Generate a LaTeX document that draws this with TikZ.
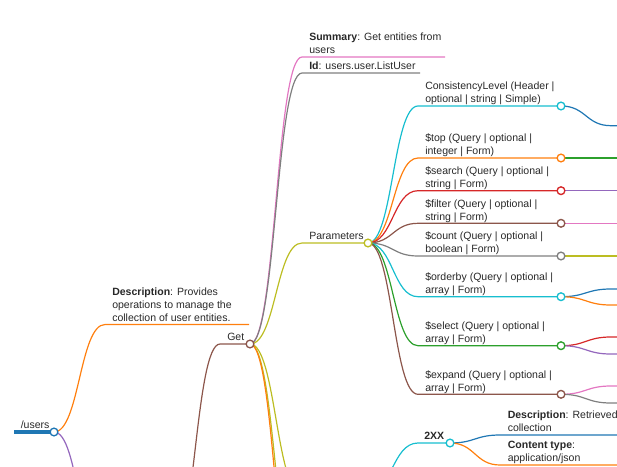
\documentclass[tikz,border=0pt]{standalone}
\usepackage{fontspec}
\setmainfont{Liberation Sans}

\definecolor{mblue}{RGB}{31,119,180}
\definecolor{morange}{RGB}{255,127,14}
\definecolor{mgreen}{RGB}{44,160,44}
\definecolor{mred}{RGB}{214,39,40}
\definecolor{mpurple}{RGB}{148,103,189}
\definecolor{mbrown}{RGB}{140,86,75}
\definecolor{mpink}{RGB}{227,119,194}
\definecolor{mgray}{RGB}{127,127,127}
\definecolor{molive}{RGB}{188,189,34}
\definecolor{mcyan}{RGB}{23,190,207}
\definecolor{ink}{RGB}{40,40,40}

\newcommand{\mmfont}{\fontsize{7.9}{9.8}\selectfont}

\begin{document}
\begin{tikzpicture}[x=0.75pt,y=0.75pt,yscale=-1,xscale=1,
  link/.style={line width=0.9pt},
  rootlink/.style={line width=2.4pt},
  dot/.style={circle,draw=#1,fill=white,line width=1pt,inner sep=0pt,minimum size=5.8pt},
  lbl/.style={anchor=south west,inner sep=0pt,align=left,font=\mmfont,text=ink,execute at end node=\strut}]
\clip (0,0) rectangle (617,467);

%Points [line starts and circles]
\coordinate (users-s) at (14,432);
\coordinate (users) at (54,432);
\coordinate (users-nx) at (105,565);
\coordinate (desc-s) at (105,324.5);
\coordinate (desc-e) at (249,324.5);
\coordinate (get-in) at (170,557);
\coordinate (get-s) at (220,344);
\coordinate (get) at (250,344);
\coordinate (summ-s) at (302,57);
\coordinate (summ-e) at (445,57);
\coordinate (id-s) at (302,73);
\coordinate (id-e) at (420,73);
\coordinate (par-s) at (302,243);
\coordinate (par) at (368,243);
\coordinate (resp-s) at (302,494);
\coordinate (resp) at (366,494);
\coordinate (get-nx1) at (302,598);
\coordinate (get-nx2) at (302,634);
\coordinate (cons-s) at (418,106);
\coordinate (cons) at (561,106);
\coordinate (top-s) at (418,158);
\coordinate (top) at (561,158);
\coordinate (search-s) at (418,190.7);
\coordinate (search) at (561,190.7);
\coordinate (filter-s) at (418,223.3);
\coordinate (filter) at (561,223.3);
\coordinate (count-s) at (418,256);
\coordinate (count) at (561,256);
\coordinate (order-s) at (418,296.7);
\coordinate (order) at (561,296.7);
\coordinate (select-s) at (418,345.7);
\coordinate (select) at (561,345.7);
\coordinate (expand-s) at (418,394.3);
\coordinate (expand) at (561,394.3);
\coordinate (two-s) at (418,443);
\coordinate (two) at (450,443);
\coordinate (two-d) at (500,435);
\coordinate (two-c) at (500,465);

%Root line
\draw [mblue,rootlink] (users-s) -- (users) ;
%Curve Lines [/users]
\draw [morange,link] (users) .. controls +(25.5,0) and +(-25.5,0) .. (desc-s) -- (desc-e) ;
\draw [mpurple,link] (users) .. controls +(25.5,0) and +(-25.5,0) .. (users-nx) ;
%Curve Lines [Get]
\draw [mbrown,link] (get-in) .. controls +(25,0) and +(-25,0) .. (get-s) -- (get) ;
\draw [mpink,link] (get) .. controls +(26,0) and +(-26,0) .. (summ-s) -- (summ-e) ;
\draw [mgray,link] (get) .. controls +(26,0) and +(-26,0) .. (id-s) -- (id-e) ;
\draw [molive,link] (get) .. controls +(26,0) and +(-26,0) .. (par-s) -- (par) ;
\draw [molive,link] (get) .. controls +(26,0) and +(-26,0) .. (resp-s) -- (resp) ;
\draw [molive,link] (get) .. controls +(26,0) and +(-26,0) .. (get-nx1) ;
\draw [morange,link] (get) .. controls +(26,0) and +(-26,0) .. (get-nx2) ;
%Curve Lines [Parameters]
\draw [mcyan,link] (par) .. controls +(25,0) and +(-25,0) .. (cons-s) -- (cons) ;
\draw [morange,link] (par) .. controls +(25,0) and +(-25,0) .. (top-s) -- (top) ;
\draw [mred,link] (par) .. controls +(25,0) and +(-25,0) .. (search-s) -- (search) ;
\draw [mbrown,link] (par) .. controls +(25,0) and +(-25,0) .. (filter-s) -- (filter) ;
\draw [mgray,link] (par) .. controls +(25,0) and +(-25,0) .. (count-s) -- (count) ;
\draw [mcyan,link] (par) .. controls +(25,0) and +(-25,0) .. (order-s) -- (order) ;
\draw [mgreen,link] (par) .. controls +(25,0) and +(-25,0) .. (select-s) -- (select) ;
\draw [mbrown,link] (par) .. controls +(25,0) and +(-25,0) .. (expand-s) -- (expand) ;
%Curve Lines [right edge]
\draw [mblue,link] (cons) .. controls +(25,0) and +(-25,0) .. (611,125.7) -- ++(30,0) ;
\draw [mgreen,link] (top) -- ++(80,0) ;
\draw [mpurple,link] (search) -- ++(80,0) ;
\draw [mpink,link] (filter) -- ++(80,0) ;
\draw [molive,link] (count) -- ++(80,0) ;
\draw [mblue,link] (order) .. controls +(25,0) and +(-25,0) .. (611,289) -- ++(30,0) ;
\draw [morange,link] (order) .. controls +(25,0) and +(-25,0) .. (611,305) -- ++(30,0) ;
\draw [mred,link] (select) .. controls +(25,0) and +(-25,0) .. (611,337) -- ++(30,0) ;
\draw [mpurple,link] (select) .. controls +(25,0) and +(-25,0) .. (611,354) -- ++(30,0) ;
\draw [mpink,link] (expand) .. controls +(25,0) and +(-25,0) .. (611,386) -- ++(30,0) ;
\draw [mgray,link] (expand) .. controls +(25,0) and +(-25,0) .. (611,403) -- ++(30,0) ;
%Curve Lines [2XX]
\draw [mcyan,link] (resp) .. controls +(26,0) and +(-26,0) .. (two-s) -- (two) ;
\draw [mblue,link] (two) .. controls +(25,0) and +(-25,0) .. (two-d) -- ++(130,0) ;
\draw [morange,link] (two) .. controls +(25,0) and +(-25,0) .. (two-c) -- ++(130,0) ;

%Shape: Circles
\node [dot=mblue] (users-dot) at (users) {};
\node [dot=mbrown] (get-dot) at (get) {};
\node [dot=molive] (par-dot) at (par) {};
\node [dot=mcyan] (cons-dot) at (cons) {};
\node [dot=morange] (top-dot) at (top) {};
\node [dot=mred] (search-dot) at (search) {};
\node [dot=mbrown] (filter-dot) at (filter) {};
\node [dot=mgray] (count-dot) at (count) {};
\node [dot=mcyan] (order-dot) at (order) {};
\node [dot=mgreen] (select-dot) at (select) {};
\node [dot=mbrown] (expand-dot) at (expand) {};
\node [dot=mcyan] (two-dot) at (two) {};

% Text Node
\node [lbl] (t-users) at (20.5,433) {/users};
% Text Node
\node [lbl] (t-desc) at (112,325.5) {\textbf{Description}: Provides\\operations to manage the\\collection of user entities.};
% Text Node
\node [lbl] (t-get) at (227,345) {Get};
% Text Node
\node [lbl] (t-summ) at (309,58) {\textbf{Summary}: Get entities from\\users};
% Text Node
\node [lbl] (t-id) at (309,74) {\textbf{Id}: users.user.ListUser};
% Text Node
\node [lbl] (t-par) at (309,244) {Parameters};
% Text Node
\node [lbl] (t-cons) at (425,107) {ConsistencyLevel (Header |\\optional | string | Simple)};
% Text Node
\node [lbl] (t-top) at (425,159) {\$top (Query | optional |\\integer | Form)};
% Text Node
\node [lbl] (t-search) at (425,191.7) {\$search (Query | optional |\\string | Form)};
% Text Node
\node [lbl] (t-filter) at (425,224.3) {\$filter (Query | optional |\\string | Form)};
% Text Node
\node [lbl] (t-count) at (425,257) {\$count (Query | optional |\\boolean | Form)};
% Text Node
\node [lbl] (t-order) at (425,297.7) {\$orderby (Query | optional |\\array | Form)};
% Text Node
\node [lbl] (t-select) at (425,346.7) {\$select (Query | optional |\\array | Form)};
% Text Node
\node [lbl] (t-expand) at (425,395.3) {\$expand (Query | optional |\\array | Form)};
% Text Node
\node [lbl] (t-two) at (424,444) {\textbf{2XX}};
% Text Node
\node [lbl] (t-two-d) at (507.5,436) {\textbf{Description}: Retrieved\\collection};
% Text Node
\node [lbl] (t-two-c) at (507.5,466) {\textbf{Content type}:\\application/json};

\end{tikzpicture}
\end{document}
